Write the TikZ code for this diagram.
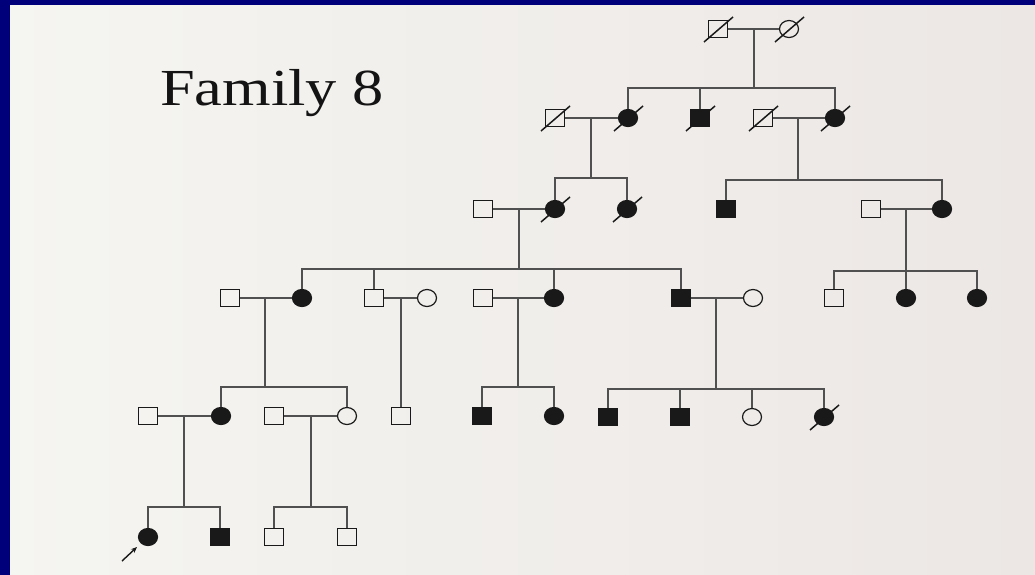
\documentclass[tikz,border=0pt]{standalone}
\usepackage{fontspec}
\setmainfont{Liberation Serif}
\usetikzlibrary{shapes.geometric,arrows.meta}
\definecolor{frameblue}{RGB}{0,0,122}
\definecolor{bgL}{RGB}{245,245,241}
\definecolor{bgR}{RGB}{236,231,229}
\definecolor{sym}{RGB}{25,25,25}
\definecolor{lnc}{RGB}{80,80,80}
\definecolor{txt}{RGB}{20,20,20}
\tikzset{
  sq/.style={draw=sym, line width=1.2pt, rectangle, minimum width=19pt, minimum height=17pt, inner sep=0pt},
  ci/.style={draw=sym, line width=1.2pt, ellipse, minimum width=19pt, minimum height=17pt, inner sep=0pt},
  aff/.style={fill=sym},
  ln/.style={draw=lnc, line width=1.4pt},
  slash/.style={draw=sym, line width=1.5pt},
}
\newcommand\deceased[1]{\draw[slash] ([shift={(-14,13)}]#1.center) -- ([shift={(15,-12)}]#1.center);}
\begin{document}
\begin{tikzpicture}[x=1pt,y=-1pt]
\useasboundingbox (0,0) rectangle (1035,574);
\fill[bgL] (-3,-3) rectangle (1038,578);
\shade[left color=bgL, right color=bgR] (-3,-3) rectangle (1038,578);
\fill[frameblue] (-3,-3) rectangle (1038,5);
\fill[frameblue] (-3,-3) rectangle (10,578);

\node[font=\fontsize{52}{60}\selectfont, text=txt, anchor=base, xscale=1.2, inner sep=0pt] (title) at (272,105) {Family 8};

% Generation I
\node[sq] (I1) at (718,29) {};
\node[ci] (I2) at (789,29) {};
% Generation II
\node[sq] (II1) at (555,118) {};
\node[ci,aff] (II2) at (628,118) {};
\node[sq,aff] (II3) at (700,118) {};
\node[sq] (II4) at (763,118) {};
\node[ci,aff] (II5) at (835,118) {};
% Generation III
\node[sq] (III1) at (483,209) {};
\node[ci,aff] (III2) at (555,209) {};
\node[ci,aff] (III3) at (627,209) {};
\node[sq,aff] (III4) at (726,209) {};
\node[sq] (III5) at (871,209) {};
\node[ci,aff] (III6) at (942,209) {};
% Generation IV
\node[sq] (IV1) at (230,298) {};
\node[ci,aff] (IV2) at (302,298) {};
\node[sq] (IV3) at (374,298) {};
\node[ci] (IV4) at (427,298) {};
\node[sq] (IV5) at (483,298) {};
\node[ci,aff] (IV6) at (554,298) {};
\node[sq,aff] (IV7) at (681,298) {};
\node[ci] (IV8) at (753,298) {};
\node[sq] (IV9) at (834,298) {};
\node[ci,aff] (IV10) at (906,298) {};
\node[ci,aff] (IV11) at (977,298) {};
% Generation V
\node[sq] (V1) at (148,416) {};
\node[ci,aff] (V2) at (221,416) {};
\node[sq] (V3) at (274,416) {};
\node[ci] (V4) at (347,416) {};
\node[sq] (V5) at (401,416) {};
\node[sq,aff] (V6) at (482,416) {};
\node[ci,aff] (V7) at (554,416) {};
\node[sq,aff] (V8) at (608,417) {};
\node[sq,aff] (V9) at (680,417) {};
\node[ci] (V10) at (752,417) {};
\node[ci,aff] (V11) at (824,417) {};
% Generation VI
\node[ci,aff] (VI1) at (148,537) {};
\node[sq,aff] (VI2) at (220,537) {};
\node[sq] (VI3) at (274,537) {};
\node[sq] (VI4) at (347,537) {};

% deceased marks
\deceased{I1}\deceased{I2}
\deceased{II1}\deceased{II2}\deceased{II3}\deceased{II4}\deceased{II5}
\deceased{III2}\deceased{III3}
\deceased{V11}

% marriages
\draw[ln] (I1.east) -- (I2.west);
\draw[ln] (II1.east) -- (II2.west);
\draw[ln] (II4.east) -- (II5.west);
\draw[ln] (III1.east) -- (III2.west);
\draw[ln] (III5.east) -- (III6.west);
\draw[ln] (IV1.east) -- (IV2.west);
\draw[ln] (IV3.east) -- (IV4.west);
\draw[ln] (IV5.east) -- (IV6.west);
\draw[ln] (IV7.east) -- (IV8.west);
\draw[ln] (V1.east) -- (V2.west);
\draw[ln] (V3.east) -- (V4.west);

% descent points
\coordinate (m1) at (754,29);   \coordinate (s1) at (754,88);
\coordinate (m2) at (591,118);  \coordinate (s2) at (591,178);
\coordinate (m3) at (798,118);  \coordinate (s3) at (798,180);
\coordinate (m4) at (519,209);  \coordinate (s4) at (519,269);
\coordinate (m5) at (906,209);  \coordinate (s5) at (906,271);
\coordinate (m6) at (265,298);  \coordinate (s6) at (265,387);
\coordinate (m7) at (401,298);
\coordinate (m8) at (518,298);  \coordinate (s8) at (518,387);
\coordinate (m9) at (716,298);  \coordinate (s9) at (716,389);
\coordinate (m10) at (184,416); \coordinate (s10) at (184,507);
\coordinate (m11) at (311,416); \coordinate (s11) at (311,507);

\draw[ln] (m1) -- (s1);
\draw[ln] (II2.north) |- (s1); \draw[ln] (II3.north) |- (s1); \draw[ln] (II5.north) |- (s1);
\draw[ln] (m2) -- (s2);
\draw[ln] (III2.north) |- (s2); \draw[ln] (III3.north) |- (s2);
\draw[ln] (m3) -- (s3);
\draw[ln] (III4.north) |- (s3); \draw[ln] (III6.north) |- (s3);
\draw[ln] (m4) -- (s4);
\draw[ln] (IV2.north) |- (s4); \draw[ln] (IV3.north) |- (s4); \draw[ln] (IV6.north) |- (s4); \draw[ln] (IV7.north) |- (s4);
\draw[ln] (m5) -- (s5);
\draw[ln] (IV9.north) |- (s5); \draw[ln] (IV10.north) |- (s5); \draw[ln] (IV11.north) |- (s5);
\draw[ln] (m6) -- (s6);
\draw[ln] (V2.north) |- (s6); \draw[ln] (V4.north) |- (s6);
\draw[ln] (m7) -- (V5.north);
\draw[ln] (m8) -- (s8);
\draw[ln] (V6.north) |- (s8); \draw[ln] (V7.north) |- (s8);
\draw[ln] (m9) -- (s9);
\draw[ln] (V8.north) |- (s9); \draw[ln] (V9.north) |- (s9); \draw[ln] (V10.north) |- (s9); \draw[ln] (V11.north) |- (s9);
\draw[ln] (m10) -- (s10);
\draw[ln] (VI1.north) |- (s10); \draw[ln] (VI2.north) |- (s10);
\draw[ln] (m11) -- (s11);
\draw[ln] (VI3.north) |- (s11); \draw[ln] (VI4.north) |- (s11);

% proband arrow
\coordinate (pa) at (122,561);
\coordinate (pb) at (137,547);
\draw[draw=sym, line width=1.4pt, -{Stealth[length=6pt,width=5pt]}] (pa) -- (pb);
\end{tikzpicture}
\end{document}
